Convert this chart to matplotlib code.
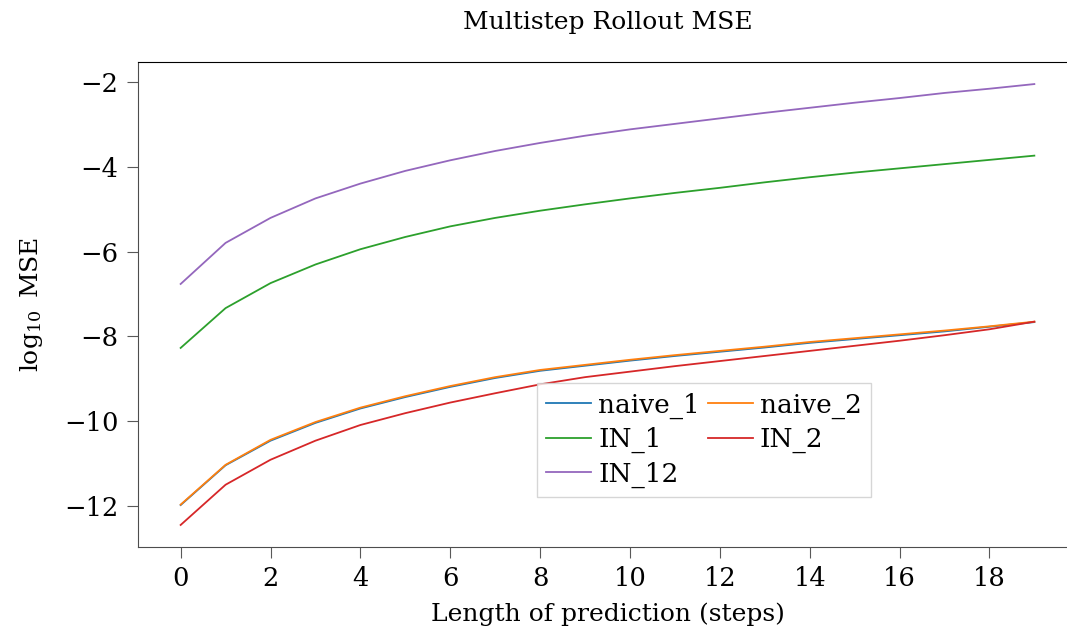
import numpy as np
import matplotlib.pyplot as plt

plt.rcParams['font.family'] = ['DejaVu Serif']
plt.rcParams['mathtext.fontset'] = 'dejavuserif'

# rollout step index
steps = np.arange(20)

# log10 MSE for each model
naive_1 = [-11.98, -11.04, -10.46, -10.04, -9.70, -9.43, -9.19, -8.98, -8.81, -8.69,
           -8.57, -8.46, -8.36, -8.26, -8.15, -8.06, -7.97, -7.88, -7.77, -7.66]
naive_2 = [-11.97, -11.03, -10.44, -10.02, -9.68, -9.41, -9.17, -8.96, -8.79, -8.67,
           -8.55, -8.44, -8.34, -8.24, -8.13, -8.04, -7.95, -7.86, -7.76, -7.65]
IN_1 = [-8.27, -7.33, -6.74, -6.30, -5.94, -5.65, -5.40, -5.20, -5.03, -4.88,
        -4.74, -4.61, -4.49, -4.36, -4.24, -4.13, -4.03, -3.93, -3.83, -3.73]
IN_2 = [-12.45, -11.50, -10.91, -10.46, -10.09, -9.81, -9.56, -9.34, -9.13, -8.96,
        -8.83, -8.70, -8.58, -8.46, -8.34, -8.22, -8.10, -7.97, -7.83, -7.65]
IN_12 = [-6.76, -5.79, -5.20, -4.74, -4.39, -4.09, -3.84, -3.62, -3.43, -3.26,
         -3.11, -2.98, -2.85, -2.72, -2.60, -2.48, -2.37, -2.25, -2.15, -2.04]

series = [('naive_1', naive_1), ('naive_2', naive_2), ('IN_1', IN_1),
          ('IN_2', IN_2), ('IN_12', IN_12)]

fig = plt.figure(figsize=(10.67, 6.44), dpi=100)
ax = fig.add_axes([0.1293, 0.1506, 0.8801, 0.7531])

lines = {}
for name, vals in series:
    lines[name], = ax.plot(steps, vals, label=name, lw=1.3)

ax.set_xticks(np.arange(0, 19, 2))
ax.set_yticks([-12, -10, -8, -6, -4, -2])
ax.tick_params(direction='out', length=8, width=0.8, color='0.35',
               labelsize=18.5, pad=6)
for s in ['left', 'bottom']:
    ax.spines[s].set_color('0.3')
ax.spines['top'].set_color('black')
ax.spines['right'].set_visible(False)

ax.set_title('Multistep Rollout MSE', fontsize=18, pad=24)
ax.set_xlabel('Length of prediction (steps)', fontsize=18, labelpad=8)
ax.set_ylabel(r'$\log_{10}$ MSE', fontsize=18, labelpad=14)

# legend reads row by row: naive_1 naive_2 / IN_1 IN_2 / IN_12
order = ['naive_1', 'IN_1', 'IN_12', 'naive_2', 'IN_2']
leg = ax.legend([lines[k] for k in order], order, ncol=2, fontsize=19,
                loc='upper left', bbox_to_anchor=(0.425, 0.338),
                borderaxespad=0, fancybox=False,
                handlelength=1.7, handletextpad=0.27, columnspacing=0.3,
                labelspacing=0.32, borderpad=0.35)
leg.get_frame().set_edgecolor('0.8')

fig.savefig('out.png', dpi=100)
